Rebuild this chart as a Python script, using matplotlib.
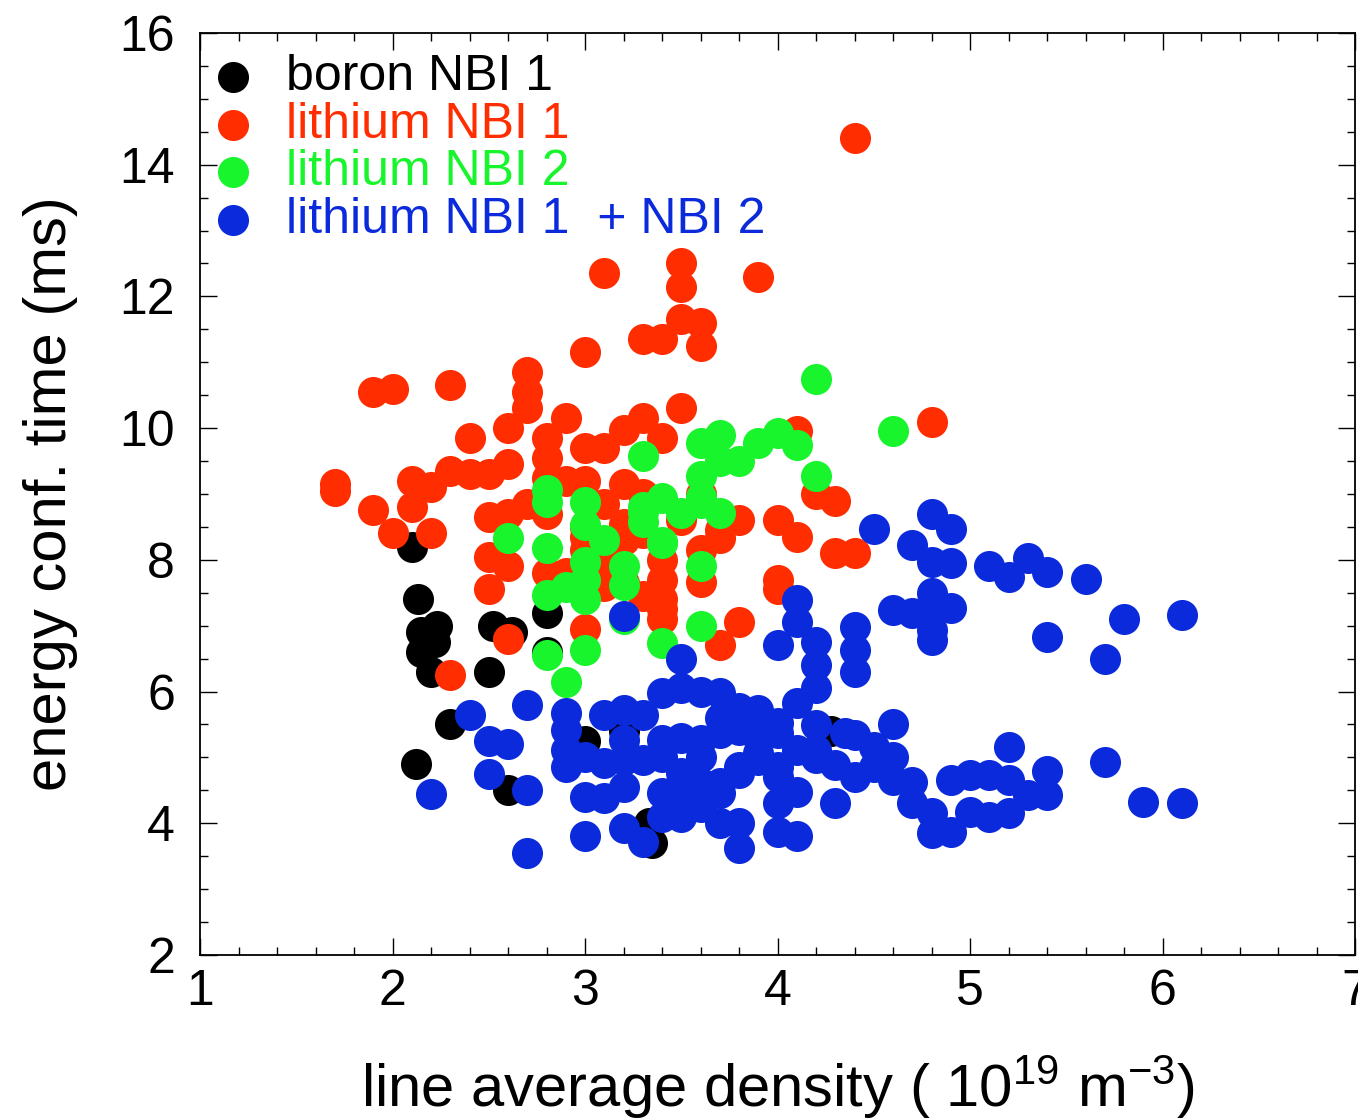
import numpy as np
import matplotlib
matplotlib.use("Agg")
import matplotlib.pyplot as plt
from matplotlib.ticker import MultipleLocator

plt.rcParams['font.family'] = ['Liberation Sans', 'DejaVu Sans']
plt.rcParams['mathtext.default'] = 'regular'

# boron NBI 1
boron_x = [2.1, 2.13, 2.15, 2.23, 2.15, 2.22, 2.2, 2.52, 2.62, 2.5, 2.3, 2.12, 2.6,
           2.8, 2.8, 3.0, 3.2, 3.35, 3.33, 4.28, 2.2]
boron_y = [8.2, 7.4, 6.9, 7.0, 6.6, 6.75, 6.3, 7.0, 6.9, 6.3, 5.5, 4.9, 4.5,
           7.2, 6.6, 5.25, 5.4, 3.7, 4.0, 5.4, 6.8]

# lithium NBI 1
li1_x = [4.4, 3.5, 3.5, 3.1, 3.9,
         3.3, 3.4, 3.5, 3.6, 3.6, 3.0,
         1.9, 2.0, 2.3, 2.7, 2.7, 2.7, 3.5, 4.8,
         2.9, 2.6, 2.4, 2.8, 3.0, 3.1, 3.2, 3.3, 3.4, 4.1,
         1.7, 1.7, 2.1, 2.2, 2.3, 2.4, 2.5, 2.6, 2.8, 2.8, 2.9, 3.0, 3.2, 4.2, 4.3,
         1.9, 2.1, 2.0, 2.2, 2.5, 2.6, 2.7, 2.8, 3.0, 3.1, 3.2, 3.3, 3.2, 3.0,
         3.7, 3.6, 3.8, 3.7, 4.0, 4.1, 4.3, 4.4,
         2.5, 2.6, 2.5, 2.8, 2.9, 3.1, 3.2, 3.1, 3.3, 3.4, 3.4, 3.4, 3.4, 3.6,
         4.0, 4.0, 3.8, 3.7, 3.0, 2.6, 2.3, 3.0, 3.3, 3.5, 3.4, 3.6]
li1_y = [14.4, 12.5, 12.15, 12.35, 12.3,
         11.35, 11.35, 11.65, 11.6, 11.25, 11.15,
         10.55, 10.6, 10.65, 10.85, 10.55, 10.3, 10.3, 10.1,
         10.15, 10.0, 9.85, 9.85, 9.7, 9.7, 9.97, 10.15, 9.85, 9.95,
         9.15, 9.05, 9.2, 9.1, 9.35, 9.3, 9.3, 9.45, 9.55, 9.25, 9.2, 9.2, 9.15, 9.0, 8.9,
         8.75, 8.8, 8.4, 8.4, 8.65, 8.7, 8.85, 8.7, 8.5, 8.85, 8.55, 8.4, 8.3, 8.15,
         8.33, 8.15, 8.6, 8.45, 8.6, 8.35, 8.1, 8.1,
         8.05, 7.9, 7.55, 7.8, 7.8, 7.95, 7.65, 7.6, 7.45, 7.7, 7.4, 7.1, 7.25, 7.66,
         7.7, 7.55, 7.05, 6.7, 6.95, 6.8, 6.25, 8.35, 9.0, 8.6, 8.0, 9.0]

# lithium NBI 2
li2_x = [4.2, 4.6, 4.2, 4.0, 4.1, 3.9, 3.7, 3.6, 3.8, 3.7, 3.6, 3.3, 3.4, 3.3, 3.5,
         3.6, 3.7, 3.6, 3.4, 3.1, 3.3, 3.3, 3.4,
         2.8, 2.8, 3.0, 3.0, 2.6, 2.8, 3.0, 3.2, 3.2, 3.0, 3.0, 2.8, 2.9, 3.6, 3.6,
         3.4, 2.8, 3.0, 3.2, 2.9]
li2_y = [10.75, 9.95, 9.27, 9.92, 9.75, 9.77, 9.9, 9.77, 9.5, 9.5, 9.27, 9.57, 8.94, 8.73, 8.71,
         8.95, 8.71, 8.86, 8.27, 8.3, 8.8, 8.58, 8.25,
         9.06, 8.88, 8.88, 8.53, 8.33, 8.18, 7.97, 7.9, 7.62, 7.7, 7.4, 7.47, 7.58, 7.9, 7.0,
         6.74, 6.55, 6.63, 7.1, 6.15]

# lithium NBI 1 + NBI 2
li12_x = [2.2, 2.4, 2.5, 2.5, 2.6, 2.7, 2.7, 2.7,
          2.9, 2.9, 2.9, 2.9, 3.0, 3.0, 3.0, 3.1, 3.1, 3.1,
          3.2, 3.2, 3.2, 3.2, 3.2, 3.2, 3.3, 3.3, 3.3,
          3.4, 3.4, 3.4, 3.4, 3.4,
          3.5, 3.5, 3.5, 3.5, 3.5, 3.5, 3.5,
          3.6, 3.6, 3.6, 3.6, 3.6, 3.6,
          3.7, 3.7, 3.7, 3.7, 3.7, 3.7,
          3.8, 3.8, 3.8, 3.8, 3.8, 3.8,
          3.9, 3.9, 3.9, 3.9,
          4.0, 4.0, 4.0, 4.0, 4.0, 4.0, 4.0,
          4.1, 4.1, 4.1, 4.1, 4.1, 4.1,
          4.2, 4.2, 4.2, 4.2, 4.2, 4.2,
          4.3, 4.3, 4.35,
          4.4, 4.4, 4.4, 4.4, 4.4,
          4.5, 4.5, 4.5,
          4.6, 4.6, 4.6, 4.6,
          4.7, 4.7, 4.7, 4.7,
          4.8, 4.8, 4.8, 4.8, 4.8, 4.8, 4.8, 4.8,
          4.9, 4.9, 4.9, 4.9, 4.9,
          5.0, 5.0, 5.1, 5.1, 5.1,
          5.2, 5.2, 5.2, 5.2, 5.3, 5.3,
          5.4, 5.4, 5.4, 5.4, 5.6, 5.7, 5.7, 5.8, 5.9, 6.1, 6.1]
li12_y = [4.45, 5.65, 5.25, 4.75, 5.2, 5.8, 4.5, 3.55,
          5.67, 5.42, 5.11, 4.86, 5.0, 4.4, 3.8, 5.64, 4.91, 4.38,
          7.15, 5.72, 4.96, 4.55, 3.93, 5.26, 5.64, 4.96, 3.72,
          5.98, 5.26, 5.0, 4.46, 4.1,
          6.5, 6.05, 5.29, 4.76, 4.55, 4.2, 4.1,
          6.0, 5.26, 5.0, 4.61, 4.46, 4.25,
          5.98, 5.37, 5.6, 4.61, 4.46, 4.0,
          5.75, 5.42, 4.86, 4.76, 4.0, 3.62,
          5.72, 5.3, 5.07, 4.96,
          6.7, 5.52, 5.37, 4.86, 4.7, 4.3, 3.87,
          7.39, 7.06, 5.83, 5.11, 4.48, 3.8,
          6.75, 6.4, 6.05, 5.49, 5.11, 4.99,
          4.89, 4.3, 5.37,
          6.98, 6.63, 6.3, 5.34, 4.7,
          8.47, 5.16, 4.86,
          7.24, 5.5, 5.0, 4.66,
          8.23, 7.19, 4.63, 4.3,
          8.7, 7.97, 7.5, 7.24, 6.94, 6.78, 4.15, 3.85,
          8.47, 7.95, 7.27, 4.66, 3.87,
          4.73, 4.17, 7.9, 4.73, 4.1,
          7.74, 5.16, 4.66, 4.15, 8.03, 4.43,
          7.82, 6.83, 4.8, 4.43, 7.71, 6.5, 4.93, 7.1, 4.32, 7.16, 4.3]

c_boron = "black"
c_li1 = "#FF2D00"
c_li2 = "#18F52D"
c_li12 = "#0A2ADC"

fig = plt.figure(figsize=(13.58, 11.19), dpi=100)
ax = fig.add_axes([0.1473, 0.1466, 0.8505, 0.8239])

ms = 500
ax.scatter(boron_x, boron_y, s=ms, color=c_boron, linewidths=0, label="boron NBI 1", zorder=2)
ax.scatter(li1_x, li1_y, s=ms, color=c_li1, linewidths=0, label="lithium NBI 1", zorder=3)
ax.scatter(li2_x, li2_y, s=ms, color=c_li2, linewidths=0, label="lithium NBI 2", zorder=4)
ax.scatter(li12_x, li12_y, s=ms, color=c_li12, linewidths=0, label="lithium NBI 1  + NBI 2", zorder=5)

ax.set_xlim(1, 7)
ax.set_ylim(2, 16)
ax.xaxis.set_major_locator(MultipleLocator(1))
ax.xaxis.set_minor_locator(MultipleLocator(0.2))
ax.yaxis.set_major_locator(MultipleLocator(2))
ax.yaxis.set_minor_locator(MultipleLocator(0.5))
ax.tick_params(which='both', direction='in', top=True, right=True, width=1)
ax.tick_params(which='major', length=12)
ax.tick_params(which='minor', length=6)
ax.tick_params(axis='x', labelsize=36, pad=10)
ax.tick_params(axis='y', labelsize=36, pad=18)
for sp in ax.spines.values():
    sp.set_linewidth(1.3)

ax.set_xlabel(r"line average density ( 10$^{19}$ m$^{-3}$)", fontsize=43, labelpad=28)
ax.set_ylabel("energy conf. time (ms)", fontsize=43, labelpad=30)

ax.legend(loc='upper left', bbox_to_anchor=(0.0, 0.985), fontsize=36, frameon=False,
          handletextpad=0.56, labelspacing=0.03, borderaxespad=0.0,
          borderpad=0.15, handlelength=1.0,
          labelcolor=[c_boron, c_li1, c_li2, c_li12])

fig.savefig("out.png", dpi=100)
